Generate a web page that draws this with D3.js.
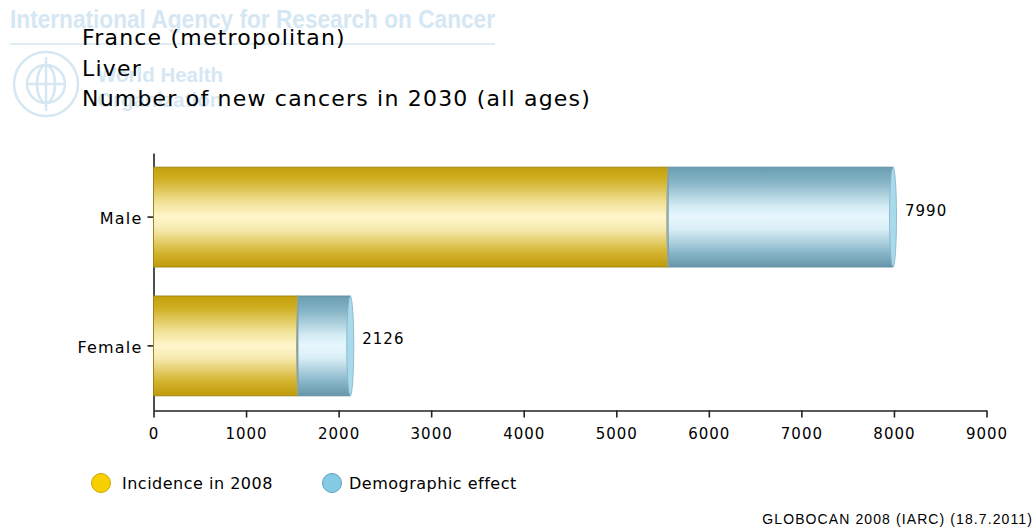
<!DOCTYPE html>
<html>
<head>
<meta charset="utf-8">
<script src="https://cdn.jsdelivr.net/npm/d3@7"></script>
<style>
  html, body { margin: 0; padding: 0; background: #fff; }
  svg { display: block; }
</style>
</head>
<body>
<svg id="chart" width="1035" height="528"></svg>
<script>
// Liver cancer, France (metropolitan): projected new cases in 2030
const categories = ["Male", "Female"];
const incidence2008 = [5560, 1560];
const demographicEffect = [2430, 566];
const totals = [7990, 2126];
const xTicks = [0, 1000, 2000, 3000, 4000, 5000, 6000, 7000, 8000, 9000];
const titleLines = ["France (metropolitan)", "Liver", "Number of new cancers in 2030 (all ages)"];
const legendLabels = ["Incidence in 2008", "Demographic effect"];

const svg = d3.select("#chart");
const font = "'DejaVu Sans', Verdana, sans-serif";
const wmColor = "#d5e7f3";

// Gradients for the cylinder-like bars
const defs = svg.append("defs");
function vGrad(id, stops) {
  const g = defs.append("linearGradient").attr("id", id)
    .attr("x1", 0).attr("y1", 0).attr("x2", 0).attr("y2", 1);
  stops.forEach(s => g.append("stop").attr("offset", s[0]).attr("stop-color", s[1]));
}
vGrad("gradYellow", [[0, "#c4a00c"], [0.12, "#d0af22"], [0.35, "#f1e196"], [0.5, "#fff6cc"], [0.62, "#f7eab0"], [0.85, "#d4b532"], [1, "#bf9b0a"]]);
vGrad("gradBlue", [[0, "#6a9db2"], [0.15, "#86b4c6"], [0.4, "#d6edf6"], [0.5, "#e8f6fc"], [0.62, "#d9eef7"], [0.85, "#8ab8ca"], [1, "#6796aa"]]);

// Faint institutional header behind the title
const wm = svg.append("g").attr("fill", wmColor)
  .attr("font-family", "'Liberation Sans', Arial, sans-serif").attr("font-weight", "bold");
wm.append("text").attr("x", 10).attr("y", 28).attr("font-size", 25)
  .attr("textLength", 485).attr("lengthAdjust", "spacingAndGlyphs")
  .text("International Agency for Research on Cancer");
wm.append("line").attr("x1", 10).attr("x2", 495).attr("y1", 44).attr("y2", 44)
  .attr("stroke", wmColor).attr("stroke-width", 1.5);
wm.append("text").attr("x", 97).attr("y", 82).attr("font-size", 20.5).text("World Health");
wm.append("text").attr("x", 97).attr("y", 107).attr("font-size", 20.5).text("Organization");

const emblem = svg.append("g").attr("transform", "translate(46,84)")
  .attr("fill", "none").attr("stroke", wmColor).attr("stroke-width", 2.5);
emblem.append("circle").attr("r", 32);
emblem.append("circle").attr("r", 19);
emblem.append("ellipse").attr("rx", 9).attr("ry", 19);
emblem.append("line").attr("x1", 0).attr("x2", 0).attr("y1", -27).attr("y2", 27);
emblem.append("line").attr("x1", -19).attr("x2", 19).attr("y1", 0).attr("y2", 0);

// Title
svg.append("g").selectAll("text").data(titleLines).join("text")
  .attr("x", 82).attr("y", (d, i) => 45 + i * 30.7)
  .attr("font-family", font).attr("font-size", 22).attr("letter-spacing", 1.2)
  .attr("fill", "#000")
  .text(d => d);

// Scales
const x = d3.scaleLinear().domain([0, 9000]).range([153.5, 986.5]);
const y = d3.scaleBand().domain(categories).range([153, 410])
  .paddingInner(0.225).paddingOuter(0.11);

// Axes
const xAxis = svg.append("g").attr("transform", "translate(0,410.5)")
  .call(d3.axisBottom(x).tickValues(xTicks).tickSize(7).tickSizeOuter(0).tickFormat(d3.format("d")));
xAxis.select(".domain").attr("stroke", "#222").attr("stroke-width", 1.6);
xAxis.selectAll(".tick line").attr("stroke", "#222").attr("stroke-width", 1.6);
xAxis.selectAll(".tick text").attr("font-family", font).attr("font-size", 15)
  .attr("letter-spacing", 1).attr("fill", "#000").attr("dy", 0).attr("y", 28.5);

const yAxis = svg.append("g").attr("transform", "translate(153.5,0)")
  .call(d3.axisLeft(y).tickSize(6).tickSizeOuter(0));
yAxis.select(".domain").attr("stroke", "#222").attr("stroke-width", 1.6);
yAxis.selectAll(".tick line").attr("stroke", "#222").attr("stroke-width", 1.6);
yAxis.selectAll(".tick text").attr("font-family", font).attr("font-size", 16)
  .attr("letter-spacing", 1.2).attr("fill", "#000").attr("x", -11).attr("dy", "0.42em");

// Bars: incidence segment then demographic effect segment
const rows = categories.map((c, i) => ({
  cat: c, inc: incidence2008[i], dem: demographicEffect[i], total: totals[i]
}));
const bars = svg.append("g").selectAll("g").data(rows).join("g");
const bh = y.bandwidth();
const capRx = 3.5;

bars.append("rect")
  .attr("x", x(0)).attr("y", d => y(d.cat))
  .attr("width", d => x(d.inc) - x(0)).attr("height", bh)
  .attr("fill", "url(#gradYellow)").attr("stroke", "#a08410").attr("stroke-width", 0.9);

bars.append("rect")
  .attr("x", d => x(d.inc)).attr("y", d => y(d.cat))
  .attr("width", d => x(d.inc + d.dem) - x(d.inc)).attr("height", bh)
  .attr("fill", "url(#gradBlue)").attr("stroke", "#5e8fa3").attr("stroke-width", 0.9);

// Slightly curved seam where the blue segment begins
bars.append("path")
  .attr("d", d => {
    const x0 = x(d.inc), y0 = y(d.cat);
    return `M${x0},${y0} Q${x0 - 2.5},${y0 + bh / 2} ${x0},${y0 + bh}`;
  })
  .attr("fill", "none").attr("stroke", "#98a8a0").attr("stroke-width", 1.3);

// End caps
bars.append("ellipse")
  .attr("cx", d => x(d.inc + d.dem)).attr("cy", d => y(d.cat) + bh / 2)
  .attr("rx", capRx).attr("ry", bh / 2)
  .attr("fill", "#a9daec").attr("stroke", "#7fb0c4").attr("stroke-width", 0.8);

// Total labels
bars.append("text")
  .attr("x", d => x(d.total) + 12).attr("y", d => y(d.cat) + bh / 2 - 1.5)
  .attr("font-family", font).attr("font-size", 15).attr("letter-spacing", 1)
  .attr("fill", "#000")
  .text(d => d.total);

// Legend
const legend = svg.append("g");
const legendItems = [
  { label: legendLabels[0], fill: "#f8d000", stroke: "#c9a800", cx: 101, tx: 122 },
  { label: legendLabels[1], fill: "#84cbe6", stroke: "#5e9fba", cx: 332, tx: 349 }
];
legend.selectAll("circle").data(legendItems).join("circle")
  .attr("cx", d => d.cx).attr("cy", 483).attr("r", 9.5)
  .attr("fill", d => d.fill).attr("stroke", d => d.stroke).attr("stroke-width", 1);
legend.selectAll("text").data(legendItems).join("text")
  .attr("x", d => d.tx).attr("y", 483).attr("dy", "0.36em")
  .attr("font-family", font).attr("font-size", 16).attr("letter-spacing", 0.5)
  .attr("fill", "#000")
  .text(d => d.label);

// Source note
svg.append("text").attr("x", 1033).attr("y", 524).attr("text-anchor", "end")
  .attr("font-family", "'Liberation Sans', Arial, sans-serif").attr("font-size", 14)
  .attr("letter-spacing", 1.1).attr("fill", "#000")
  .text("GLOBOCAN 2008 (IARC) (18.7.2011)");
</script>
</body>
</html>
